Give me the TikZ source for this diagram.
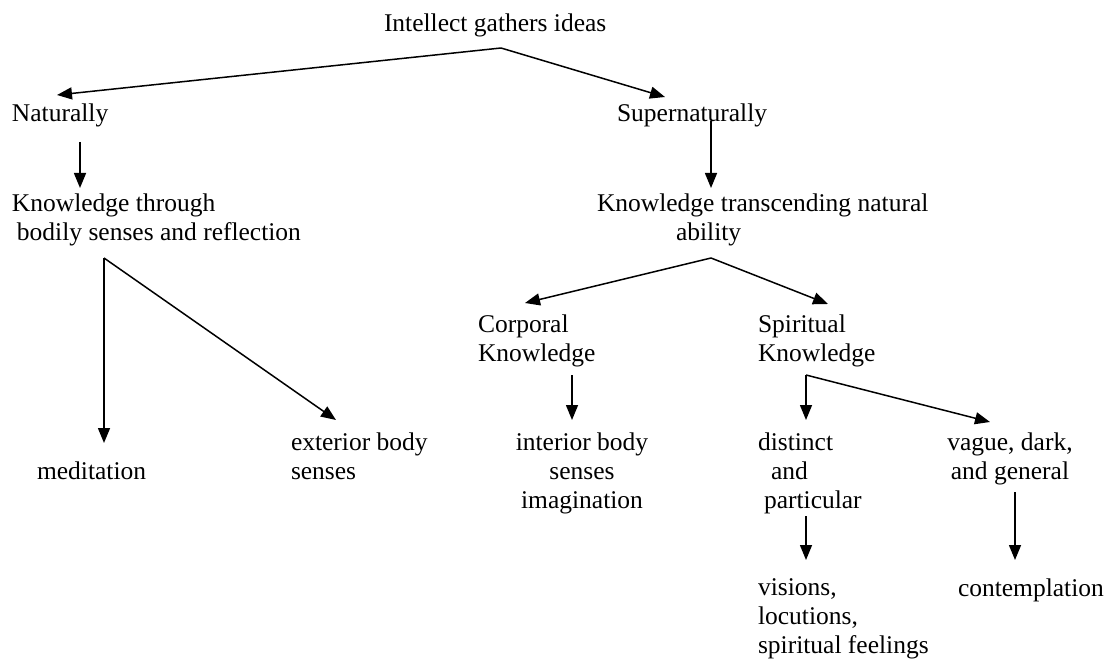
\documentclass[tikz,border=0pt]{standalone}
\usepackage{fontspec}
\setmainfont{Liberation Serif}
\usetikzlibrary{arrows.meta}
\begin{document}
\begin{tikzpicture}[x=1pt,y=-1pt,
  txt/.style={inner sep=0pt, outer sep=0pt, font=\fontsize{25.5}{29}\selectfont, anchor=north west, align=left},
  ctxt/.style={txt, anchor=north, align=center},
  arr/.style={line width=1.5pt, -{Triangle[length=15pt,width=12pt]}}]
\useasboundingbox (0,0) rectangle (1107,663);
% texts
\node[txt] (root) at (384,11.7) {\strut Intellect gathers ideas};
\node[txt] (nat) at (12,101.7) {\strut Naturally};
\node[txt] (sup) at (617,101.7) {\strut Supernaturally};
\node[txt] (kt) at (12,190.7) {\strut Knowledge through\\\hspace*{5pt}bodily senses and reflection};
\node[txt] (ktn) at (597,190.7) {\strut Knowledge transcending natural\\\hspace*{79pt}ability};
\node[txt] (med) at (37,458.7) {\strut meditation};
\node[txt] (ext) at (291,429.7) {\strut exterior body\\senses};
\node[txt] (corp) at (478,311.7) {\strut Corporal\\Knowledge};
\node[txt] (spir) at (758,311.7) {\strut Spiritual\\Knowledge};
\node[ctxt] (int) at (582,429.7) {\strut interior body\\senses\\imagination};
\node[txt] (dist) at (758,429.7) {\strut distinct\\\hspace*{13pt}and\\\hspace*{6pt}particular};
\node[ctxt] (vag) at (1010,429.7) {\strut vague, dark,\\and general};
\node[txt] (vis) at (758,575.2) {\strut visions,\\locutions,\\spiritual feelings};
\node[txt] (cont) at (958,575.7) {\strut contemplation};
% connector points
\coordinate (rootfork) at (501,48);
\coordinate (natin) at (57,95);
\coordinate (supin) at (665,97);
\coordinate (natout) at (80,142);
\coordinate (ktin) at (80,188);
\coordinate (supout) at (711,121);
\coordinate (ktnin) at (711,188);
\coordinate (ktfork) at (104,258);
\coordinate (medin) at (104,443);
\coordinate (extin) at (336,420);
\coordinate (ktnfork) at (711,258);
\coordinate (corpin) at (525,303);
\coordinate (spirin) at (828,304);
\coordinate (corpout) at (572,375);
\coordinate (intin) at (572,420);
\coordinate (spirfork) at (806,375);
\coordinate (distin) at (806,420);
\coordinate (vagin) at (990,422);
\coordinate (distout) at (806,516);
\coordinate (visin) at (806,560);
\coordinate (vagout) at (1015,492);
\coordinate (contin) at (1015,560);
% connectors
\draw[arr] (rootfork) -- (natin);
\draw[arr] (rootfork) -- (supin);
\draw[arr] (natout) -- (ktin);
\draw[arr] (supout) -- (ktnin);
\draw[arr] (ktfork) -- (medin);
\draw[arr] (ktfork) -- (extin);
\draw[arr] (ktnfork) -- (corpin);
\draw[arr] (ktnfork) -- (spirin);
\draw[arr] (corpout) -- (intin);
\draw[arr] (spirfork) -- (distin);
\draw[arr] (spirfork) -- (vagin);
\draw[arr] (distout) -- (visin);
\draw[arr] (vagout) -- (contin);
\end{tikzpicture}
\end{document}
